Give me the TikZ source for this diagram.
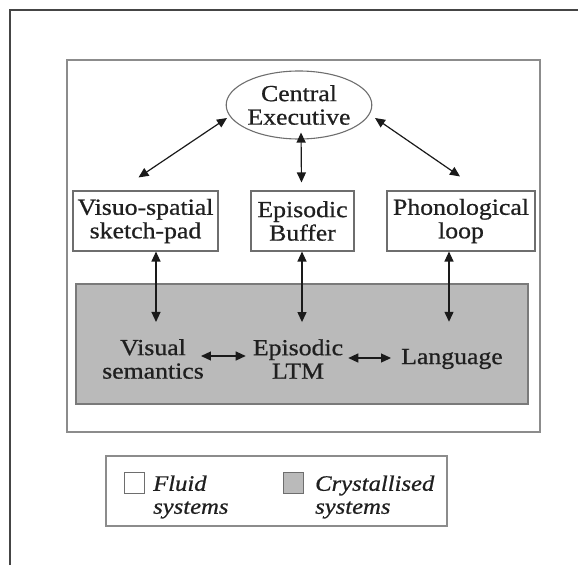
\documentclass[tikz,border=0pt]{standalone}
\usepackage{fontspec}
\setmainfont{Liberation Serif}[FakeStretch=1.12,FakeBold=0.7]
\usetikzlibrary{arrows.meta,calc,shapes.geometric}
\definecolor{framegray}{HTML}{8C8C8C}
\definecolor{outerline}{HTML}{454545}
\definecolor{boxline}{HTML}{6E6E6E}
\definecolor{crystal}{HTML}{BABABA}
\definecolor{crystalline}{HTML}{7A7A7A}
\definecolor{arrowc}{HTML}{1A1A1A}
\begin{document}
\begin{tikzpicture}[x=1pt,y=-1pt,
  lbl/.style={font=\fontsize{23}{23.5}\selectfont, align=center, inner sep=0pt, text=black!88},
  box/.style={lbl, draw=boxline, line width=1.1pt, fill=white, minimum height=60pt},
  legtext/.style={font=\fontsize{22}{23}\selectfont\itshape, align=left, inner sep=0pt, anchor=west, text=black!88},
  swatch/.style={draw=boxline, line width=1pt, minimum width=20pt, minimum height=21pt, inner sep=0pt},
  biarrow/.style={{Triangle[length=10pt,width=9pt]}-{Triangle[length=10pt,width=9pt]}, line width=1.2pt, draw=arrowc}]
\useasboundingbox (0,0) rectangle (578,565);

% outer page rule and the model frame
\draw[outerline, line width=1.4pt] (10,565) -- (10,10) -- (578,10);
\draw[framegray, line width=2pt] (67,60) rectangle (540,432);

% crystallised systems band
\node[draw=crystalline, fill=crystal, line width=1.4pt, minimum width=452pt, minimum height=120pt, inner sep=0pt] (cry) at (302,344) {};

% fluid components
\node[lbl, ellipse, draw=boxline, line width=1.1pt, minimum width=138pt, minimum height=68pt] (ce) at (299,105) {Central\\Executive};
\node[box, minimum width=145pt] (vs) at (145.5,221) {Visuo-spatial\\sketch-pad};
\node[box, minimum width=103pt] (eb) at (302.5,221) {Episodic\\Buffer};
\node[box, minimum width=148pt] (ph) at (461,221) {Phonological\\loop};

% crystallised components
\node[lbl] (vsem) at (153,359) {Visual\\semantics};
\node[lbl] (ltm) at (298,359) {Episodic\\LTM};
\node[lbl] (lang) at (452,359) {Language};

% executive links
\draw[biarrow] ($(ce.center)+(-72,13)$) -- ($(vs.north)+(-7,-13)$);
\draw[biarrow] ($(ce.south)+(2,-7)$) -- ($(eb.north)+(-1,-8)$);
\draw[biarrow] ($(ce.center)+(76,13)$) -- ($(ph.north)+(-1,-14)$);

% fluid to crystallised links
\draw[biarrow, shorten >=17pt] ($(vs.south)+(10.5,0)$) -- ($(vsem.north)+(3,0)$);
\draw[biarrow, shorten >=17pt] ($(eb.south)+(-0.5,0)$) -- ($(ltm.north)+(4,0)$);
\draw[biarrow, shorten >=27pt] ($(ph.south)+(-12,0)$) -- ($(lang.north)+(-3,0)$);

% links within the crystallised band
\draw[biarrow] ($(vsem.east)+(-3,-3)$) -- ($(ltm.west)+(-7,-3)$);
\draw[biarrow] ($(ltm.east)+(5,-1)$) -- ($(lang.west)+(-10,-1)$);

% legend
\draw[framegray, line width=1.6pt] (106,456) rectangle (447,526);
\node[swatch, fill=white] (sfl) at (134,482.5) {};
\node[swatch, fill=crystal] (scr) at (293,482.5) {};
\node[legtext] (lfl) at (153,497) {Fluid\\systems};
\node[legtext] (lcr) at (315,497) {Crystallised\\systems};
\end{tikzpicture}
\end{document}
